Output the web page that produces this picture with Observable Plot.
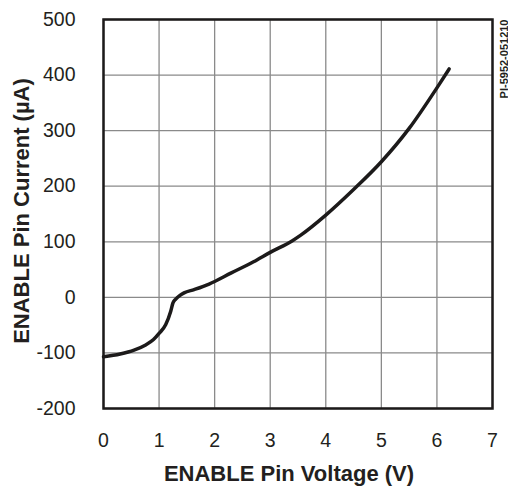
<!DOCTYPE html>
<html>
<head>
<meta charset="utf-8">
<script src="https://cdn.jsdelivr.net/npm/d3@7"></script>
<script src="https://cdn.jsdelivr.net/npm/@observablehq/plot@0.6"></script>
<style>
  html, body { margin: 0; padding: 0; background: #fff; }
  g[aria-label="y-title"] text { letter-spacing: 1px; }
</style>
</head>
<body>
<div id="chart"></div>
<script>
const voltage = [0, 0.3, 0.55, 0.75, 0.9, 1.0, 1.12, 1.21, 1.25, 1.3, 1.37, 1.45, 1.63, 1.9, 2.3, 2.7, 3.0, 3.4, 3.55, 4.0, 4.5, 5.0, 5.5, 6.0, 6.22];
const current = [-107, -102, -95, -86, -76, -65, -49, -25, -10, -3, 3, 8, 14, 24, 44, 64, 81, 102, 112, 148, 194, 244, 304, 377, 411];
const xTicks = [0, 1, 2, 3, 4, 5, 6, 7];
const yTicks = [-200, -100, 0, 100, 200, 300, 400, 500];
const xTitle = ["ENABLE Pin Voltage (V)"];
const yTitle = ["ENABLE Pin Current (µA)"];
const figureId = ["PI-5952-051210"];

const data = voltage.map((v, i) => ({v, c: current[i]}));

const chart = Plot.plot({
  width: 508,
  height: 490,
  marginLeft: 103,
  marginRight: 16,
  marginTop: 19,
  marginBottom: 82,
  style: {fontFamily: "'Liberation Sans', Arial, sans-serif", fontSize: "19px", color: "#231f20", background: "#fff"},
  x: {domain: [0, 7]},
  y: {domain: [-200, 500]},
  marks: [
    Plot.gridX(xTicks, {stroke: "#8a8a8a", strokeOpacity: 1, strokeWidth: 1.3}),
    Plot.gridY(yTicks, {stroke: "#8a8a8a", strokeOpacity: 1, strokeWidth: 1.3}),
    Plot.axisX(xTicks, {tickSize: 0, tickPadding: 25, tickFormat: d => String(d), fontSize: 19.5, label: null}),
    Plot.axisY(yTicks, {tickSize: 0, tickPadding: 28, tickFormat: d => String(d), fontSize: 19.5, label: null}),
    Plot.line(data, {x: "v", y: "c", stroke: "#1c1a1a", strokeWidth: 3.5, curve: "monotone-x"}),
    Plot.frame({stroke: "#1c1a1a", strokeWidth: 2.5}),
    Plot.text(xTitle, {frameAnchor: "bottom", lineAnchor: "middle", textAnchor: "middle", dx: -9, dy: 65,
      fontSize: 22, fontWeight: "bold", fill: "#231f20"}),
    Plot.text(yTitle, {frameAnchor: "left", rotate: -90, lineAnchor: "middle", textAnchor: "middle", dx: -82, dy: -3,
      fontSize: 22, fontWeight: "bold", fill: "#231f20", ariaLabel: "y-title"}),
    Plot.text(figureId, {frameAnchor: "top-right", rotate: -90, textAnchor: "end", dx: 15, dy: 0,
      fontSize: 11, fontWeight: "bold", lineAnchor: "bottom", fill: "#231f20"})
  ]
});
document.getElementById("chart").appendChild(chart);
</script>
</body>
</html>
